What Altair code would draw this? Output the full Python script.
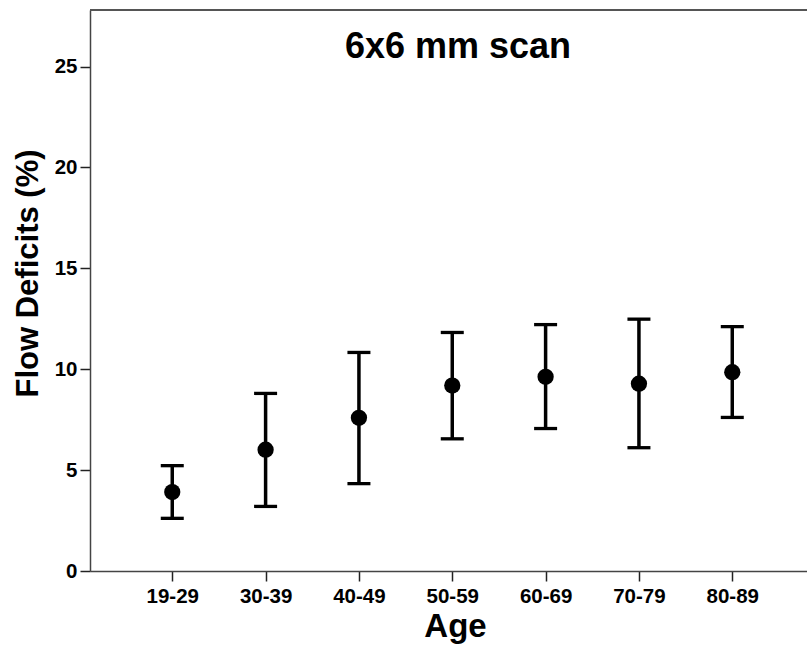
import altair as alt
import pandas as pd

# Flow deficits by age group: mean with error-bar limits
ages = ["19-29", "30-39", "40-49", "50-59", "60-69", "70-79", "80-89"]
mean_fd = [3.91, 6.01, 7.59, 9.19, 9.62, 9.28, 9.85]
upper_fd = [5.22, 8.80, 10.83, 11.82, 12.21, 12.48, 12.11]
lower_fd = [2.61, 3.20, 4.33, 6.55, 7.06, 6.11, 7.61]
y_ticks = [0, 5, 10, 15, 20, 25]
panel_title = ["6x6 mm scan"]

df = pd.DataFrame({"age": ages, "mean": mean_fd, "upper": upper_fd, "lower": lower_fd})

FONT = "Liberation Sans"
W, H = 717, 561

x = alt.X(
    "age:O",
    sort=ages,
    scale=alt.Scale(type="point", padding=0.841, align=0.524, round=False),
    axis=alt.Axis(
        title="Age",
        titleFont=FONT, titleFontSize=33, titleFontWeight="bold", titleColor="black",
        titleX=365, titleY=65.5, titleAnchor="middle", titleAlign="center", titleBaseline="alphabetic",
        labelFont=FONT, labelFontSize=20.5, labelFontWeight="bold", labelColor="black",
        labelAngle=0, labelPadding=5, tickSize=10, tickWidth=1.5, tickColor="#222",
        domainColor="#444", domainWidth=1.5, grid=False,
    ),
)
y_scale = alt.Scale(domain=[0, 27.8], nice=False, zero=True)
y_axis = alt.Axis(
    title="Flow Deficits (%)",
    titleFont=FONT, titleFontSize=31, titleFontWeight="bold", titleColor="black",
    titleAngle=270, titleX=-53, titleY=263, titleAlign="center", titleBaseline="alphabetic",
    values=y_ticks,
    labelFont=FONT, labelFontSize=20.5, labelFontWeight="bold", labelColor="black",
    labelPadding=3, tickSize=10, tickWidth=1.5, tickColor="#222",
    domainColor="#444", domainWidth=1.5, grid=False,
)

base = alt.Chart(df)

bars = base.mark_rule(color="black", strokeWidth=3.5).encode(
    x=x,
    y=alt.Y("lower:Q", scale=y_scale, axis=y_axis),
    y2="upper:Q",
)
cap_hi = base.mark_tick(color="black", opacity=1, size=23, thickness=3.3, orient="horizontal").encode(
    x=x, y=alt.Y("upper:Q", scale=y_scale)
)
cap_lo = base.mark_tick(color="black", opacity=1, size=23, thickness=3.3, orient="horizontal").encode(
    x=x, y=alt.Y("lower:Q", scale=y_scale)
)
dots = base.mark_circle(color="black", opacity=1, size=265).encode(
    x=x, y=alt.Y("mean:Q", scale=y_scale)
)
# top frame line of the plot area
frame_top = alt.Chart(pd.DataFrame({"k": [0]})).mark_rule(color="#555", strokeWidth=1.8).encode(
    x=alt.value(0), x2=alt.value(W), y=alt.value(0)
)
# panel heading inside the plot area
heading = alt.Chart(pd.DataFrame({"t": panel_title})).mark_text(
    font=FONT, fontSize=36, fontWeight="bold", color="black",
    align="center", baseline="alphabetic",
).encode(text="t:N", x=alt.value(368), y=alt.value(47.5))

chart = (
    alt.layer(frame_top, bars, cap_hi, cap_lo, dots, heading)
    .properties(
        width=W,
        height=H,
        autosize=alt.AutoSizeParams(type="none"),
        padding={"left": 90, "top": 10, "right": 0, "bottom": 85},
    )
    .configure_view(stroke=None)
    .configure(background="white")
)

chart.save("out.html", embed_options={"renderer": "svg", "actions": False})
